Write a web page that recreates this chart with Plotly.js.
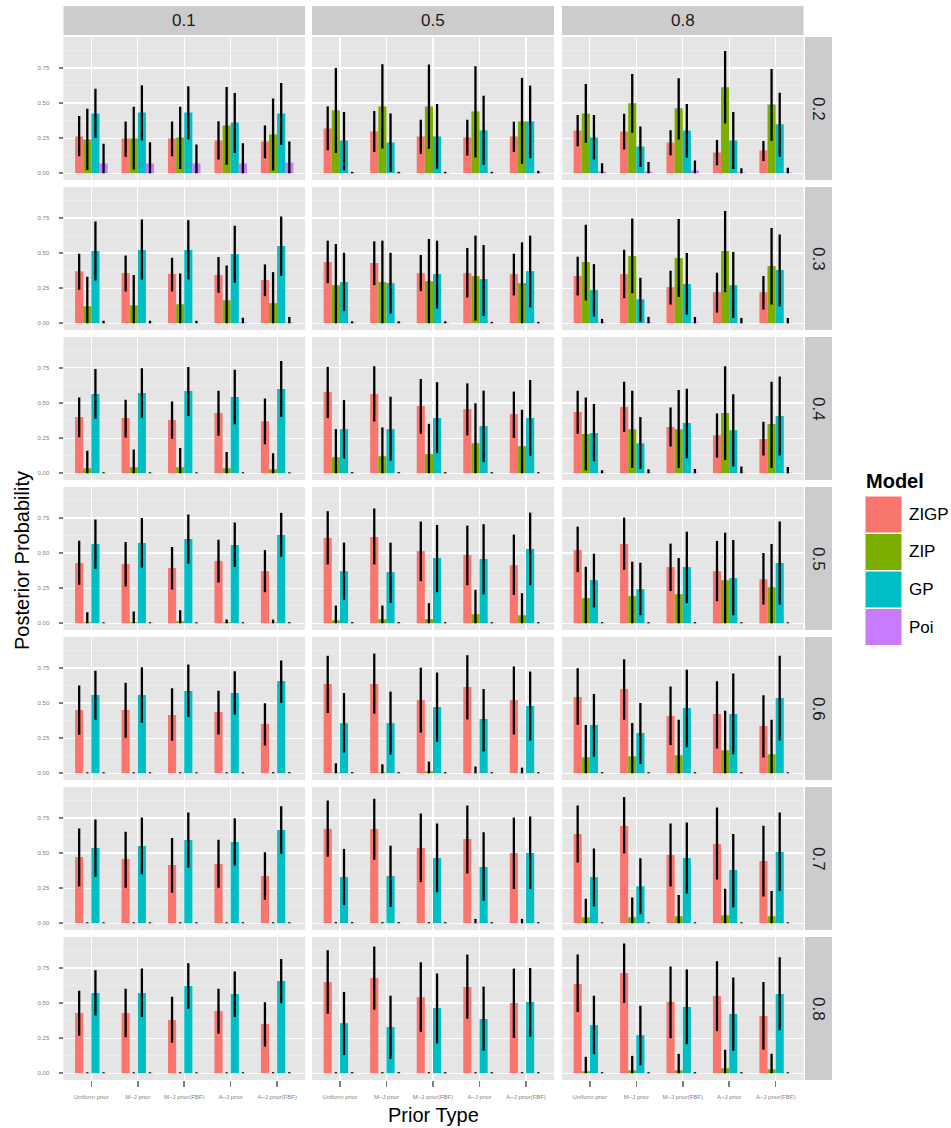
<!DOCTYPE html>
<html>
<head>
<meta charset="utf-8">
<script src="https://cdn.plot.ly/plotly-3.0.1.min.js"></script>
<style>html,body{margin:0;padding:0;background:#fff;}#chart{width:951px;height:1128px;}</style>
</head>
<body>
<div id="chart"></div>
<script>
const priors = ["Uniform prior","M\u2212J prior","M\u2212J prior(FBF)","A\u2212J prior","A\u2212J prior(FBF)"];
const models = ["ZIGP","ZIP","GP","Poi"];
const modelColors = ["#F8766D","#7CAE00","#00BFC4","#C77CFF"];
const colLabels = ["0.1","0.5","0.8"];
const rowLabels = ["0.2","0.3","0.4","0.5","0.6","0.7","0.8"];
const yTickVals = [0,0.25,0.5,0.75];
const yTickText = ["0.00","0.25","0.50","0.75"];

// panels ordered row by row (row label 0.2..0.8), columns 0.1, 0.5, 0.8
const zigpMean = [
[0.262,0.248,0.248,0.233,0.226],[0.319,0.298,0.262,0.255,0.262],[0.305,0.298,0.219,0.148,0.162],
[0.371,0.357,0.35,0.343,0.307],[0.436,0.429,0.357,0.357,0.35],[0.336,0.35,0.257,0.221,0.221],
[0.4,0.393,0.379,0.429,0.371],[0.579,0.564,0.479,0.457,0.421],[0.436,0.471,0.329,0.271,0.243],
[0.429,0.421,0.393,0.443,0.371],[0.607,0.614,0.514,0.486,0.414],[0.521,0.564,0.4,0.371,0.314],
[0.45,0.45,0.414,0.436,0.35],[0.636,0.636,0.521,0.614,0.521],[0.543,0.6,0.407,0.421,0.336],
[0.471,0.457,0.414,0.421,0.336],[0.671,0.671,0.536,0.6,0.5],[0.636,0.693,0.486,0.564,0.443],
[0.429,0.429,0.379,0.443,0.35],[0.65,0.679,0.543,0.614,0.5],[0.636,0.714,0.507,0.55,0.407]];
const zigpLow = [
[0.121,0.117,0.121,0.098,0.107],[0.164,0.152,0.138,0.126,0.152],[0.193,0.169,0.129,0.057,0.088],
[0.238,0.226,0.226,0.217,0.193],[0.286,0.271,0.229,0.183,0.198],[0.198,0.179,0.133,0.076,0.098],
[0.257,0.255,0.245,0.267,0.207],[0.393,0.369,0.281,0.269,0.252],[0.281,0.293,0.19,0.112,0.126],
[0.274,0.262,0.24,0.29,0.221],[0.419,0.419,0.3,0.271,0.202],[0.364,0.381,0.229,0.157,0.133],
[0.274,0.252,0.231,0.276,0.198],[0.429,0.424,0.29,0.383,0.276],[0.345,0.381,0.202,0.176,0.112],
[0.262,0.252,0.217,0.252,0.167],[0.474,0.452,0.293,0.355,0.245],[0.433,0.498,0.262,0.312,0.19],
[0.267,0.257,0.217,0.281,0.19],[0.424,0.452,0.295,0.388,0.252],[0.436,0.502,0.25,0.3,0.167]];
const zigpHigh = [
[0.407,0.369,0.369,0.371,0.34],[0.476,0.443,0.381,0.381,0.367],[0.414,0.424,0.307,0.236,0.229],
[0.495,0.483,0.467,0.471,0.419],[0.588,0.583,0.486,0.536,0.495],[0.474,0.524,0.374,0.36,0.336],
[0.54,0.524,0.51,0.588,0.533],[0.757,0.762,0.671,0.64,0.581],[0.588,0.652,0.469,0.426,0.367],
[0.588,0.579,0.543,0.595,0.521],[0.798,0.817,0.724,0.695,0.631],[0.688,0.752,0.567,0.586,0.5],
[0.624,0.645,0.605,0.588,0.498],[0.836,0.852,0.752,0.84,0.76],[0.748,0.812,0.617,0.655,0.555],
[0.674,0.652,0.607,0.595,0.505],[0.874,0.886,0.781,0.838,0.752],[0.838,0.898,0.71,0.824,0.695],
[0.588,0.602,0.545,0.602,0.505],[0.876,0.902,0.79,0.845,0.745],[0.845,0.924,0.76,0.798,0.65]];

const zipMean = [
[0.24,0.248,0.255,0.34,0.276],[0.448,0.476,0.476,0.44,0.369],[0.426,0.498,0.462,0.612,0.49],
[0.121,0.129,0.136,0.164,0.143],[0.271,0.293,0.3,0.336,0.286],[0.436,0.479,0.464,0.514,0.407],
[0.036,0.043,0.043,0.036,0.029],[0.114,0.121,0.136,0.214,0.193],[0.279,0.314,0.314,0.429,0.35],
[0.007,0.007,0.014,0.007,0.005],[0.021,0.029,0.029,0.064,0.057],[0.179,0.193,0.207,0.307,0.257],
[0.002,0.002,0.002,0.002,0.002],[0.004,0.005,0.014,0.002,0.002],[0.114,0.121,0.129,0.164,0.136],
[0.002,0.002,0.002,0.002,0.002],[0.002,0.002,0.002,0.002,0.002],[0.043,0.043,0.05,0.057,0.05],
[0.002,0.002,0.002,0.002,0.002],[0.002,0.002,0.002,0.002,0.002],[0.014,0.021,0.021,0.036,0.029]];
const zipLow = [
[0.024,0.026,0.031,0.06,0.019],[0.145,0.176,0.174,0.112,0.067],[0.217,0.288,0.24,0.355,0.231],
[0,0,0,0,0],[0,0,0,0.019,0],[0.162,0.214,0.188,0.221,0.133],
[0,0,0,0,0],[0,0,0,0,0],[0.021,0.038,0.038,0.095,0.038],
[0,0,0,0,0],[0,0,0,0,0],[0,0,0,0,0],
[0,0,0,0,0],[0,0,0,0,0],[0,0,0,0,0],
[0,0,0,0,0],[0,0,0,0,0],[0,0,0,0,0],
[0,0,0,0,0],[0,0,0,0,0],[0,0,0,0,0]];
const zipHigh = [
[0.46,0.474,0.474,0.614,0.533],[0.75,0.776,0.774,0.762,0.679],[0.636,0.707,0.676,0.871,0.743],
[0.331,0.343,0.355,0.412,0.364],[0.564,0.588,0.6,0.624,0.576],[0.702,0.745,0.743,0.8,0.679],
[0.16,0.169,0.179,0.152,0.143],[0.314,0.326,0.352,0.498,0.452],[0.54,0.588,0.593,0.762,0.652],
[0.079,0.083,0.093,0.026,0.026],[0.126,0.126,0.143,0.238,0.214],[0.402,0.438,0.464,0.645,0.564],
[0.008,0.008,0.008,0.008,0.008],[0.071,0.064,0.083,0.048,0.04],[0.343,0.357,0.381,0.445,0.381],
[0.008,0.008,0.008,0.008,0.008],[0.008,0.008,0.008,0.031,0.031],[0.174,0.183,0.202,0.245,0.229],
[0.008,0.008,0.008,0.008,0.008],[0.008,0.008,0.008,0.008,0.008],[0.117,0.124,0.138,0.167,0.138]];

const gpMean = [
[0.426,0.433,0.433,0.362,0.426],[0.233,0.219,0.262,0.305,0.369],[0.255,0.19,0.305,0.233,0.348],
[0.514,0.521,0.521,0.493,0.55],[0.293,0.286,0.35,0.314,0.371],[0.236,0.171,0.279,0.271,0.379],
[0.564,0.571,0.586,0.543,0.6],[0.314,0.314,0.393,0.336,0.393],[0.286,0.214,0.357,0.307,0.407],
[0.564,0.571,0.6,0.557,0.629],[0.371,0.364,0.464,0.457,0.529],[0.307,0.243,0.4,0.321,0.429],
[0.557,0.557,0.586,0.571,0.657],[0.357,0.357,0.471,0.386,0.479],[0.343,0.286,0.464,0.421,0.536],
[0.536,0.55,0.593,0.579,0.664],[0.329,0.336,0.464,0.4,0.5],[0.329,0.264,0.464,0.379,0.507],
[0.571,0.571,0.621,0.564,0.657],[0.357,0.329,0.464,0.386,0.507],[0.343,0.271,0.471,0.421,0.564]];
const gpLow = [
[0.252,0.233,0.24,0.145,0.202],[0.021,0.01,0.033,0.06,0.107],[0.098,0.045,0.11,0.031,0.117],
[0.305,0.31,0.312,0.288,0.338],[0.086,0.069,0.105,0.052,0.114],[0.048,0.01,0.062,0.038,0.119],
[0.388,0.395,0.407,0.348,0.4],[0.105,0.09,0.143,0.079,0.124],[0.086,0.031,0.107,0.048,0.126],
[0.388,0.395,0.424,0.4,0.474],[0.167,0.145,0.221,0.205,0.271],[0.112,0.057,0.143,0.057,0.133],
[0.381,0.36,0.4,0.419,0.502],[0.148,0.133,0.224,0.155,0.233],[0.117,0.067,0.186,0.136,0.233],
[0.331,0.348,0.395,0.41,0.495],[0.131,0.117,0.221,0.16,0.245],[0.119,0.064,0.212,0.114,0.229],
[0.412,0.4,0.46,0.4,0.498],[0.129,0.102,0.212,0.16,0.26],[0.136,0.057,0.207,0.16,0.307]];
const gpHigh = [
[0.602,0.626,0.619,0.571,0.643],[0.436,0.426,0.493,0.552,0.624],[0.414,0.333,0.493,0.436,0.574],
[0.724,0.738,0.733,0.695,0.76],[0.502,0.502,0.588,0.557,0.624],[0.421,0.324,0.5,0.507,0.631],
[0.743,0.748,0.757,0.736,0.8],[0.521,0.545,0.648,0.588,0.664],[0.493,0.4,0.602,0.562,0.688],
[0.738,0.75,0.774,0.717,0.786],[0.574,0.574,0.7,0.705,0.788],[0.495,0.431,0.652,0.593,0.724],
[0.729,0.755,0.774,0.726,0.802],[0.571,0.581,0.717,0.6,0.724],[0.564,0.5,0.736,0.71,0.836],
[0.738,0.752,0.788,0.748,0.833],[0.529,0.552,0.71,0.648,0.76],[0.533,0.462,0.717,0.636,0.788],
[0.733,0.745,0.783,0.724,0.814],[0.579,0.552,0.71,0.617,0.75],[0.552,0.481,0.738,0.681,0.826]];

const poiMean = [
[0.069,0.069,0.069,0.069,0.076],[0.003,0.003,0.003,0.003,0.005],[0.012,0.012,0.019,0.005,0.005],
[0.002,0.002,0.002,0.005,0.005],[0.004,0.004,0.004,0.002,0.002],[0.005,0.005,0.005,0.002,0.002],
[0.002,0.002,0.002,0.002,0.002],[0.002,0.002,0.002,0.002,0.002],[0.004,0.004,0.004,0.003,0.003],
[0.002,0.002,0.002,0.002,0.002],[0.002,0.002,0.002,0.002,0.002],[0.002,0.002,0.002,0.002,0.002],
[0.002,0.002,0.002,0.002,0.002],[0.002,0.002,0.002,0.002,0.002],[0.002,0.002,0.002,0.002,0.002],
[0.002,0.002,0.002,0.002,0.002],[0.002,0.002,0.002,0.002,0.002],[0.002,0.002,0.002,0.002,0.002],
[0.002,0.002,0.002,0.002,0.002],[0.002,0.002,0.002,0.002,0.002],[0.002,0.002,0.002,0.002,0.002]];
const poiLow = [
[0,0,0,0,0],[0,0,0,0,0],[0,0,0,0,0],[0,0,0,0,0],[0,0,0,0,0],[0,0,0,0,0],[0,0,0,0,0],
[0,0,0,0,0],[0,0,0,0,0],[0,0,0,0,0],[0,0,0,0,0],[0,0,0,0,0],[0,0,0,0,0],[0,0,0,0,0],
[0,0,0,0,0],[0,0,0,0,0],[0,0,0,0,0],[0,0,0,0,0],[0,0,0,0,0],[0,0,0,0,0],[0,0,0,0,0]];
const poiHigh = [
[0.21,0.22,0.205,0.214,0.226],[0.01,0.01,0.01,0.01,0.017],[0.071,0.081,0.09,0.036,0.04],
[0.017,0.017,0.017,0.04,0.045],[0.014,0.014,0.014,0.01,0.01],[0.031,0.045,0.045,0.038,0.038],
[0.008,0.008,0.008,0.008,0.008],[0.008,0.008,0.008,0.008,0.008],[0.021,0.029,0.031,0.048,0.045],
[0.008,0.008,0.008,0.008,0.008],[0.008,0.008,0.008,0.008,0.008],[0.008,0.008,0.008,0.008,0.008],
[0.008,0.008,0.008,0.008,0.008],[0.008,0.008,0.008,0.008,0.008],[0.008,0.008,0.008,0.008,0.008],
[0.008,0.008,0.008,0.008,0.008],[0.008,0.008,0.008,0.008,0.008],[0.008,0.008,0.008,0.008,0.008],
[0.008,0.008,0.008,0.008,0.008],[0.008,0.008,0.008,0.008,0.008],[0.008,0.008,0.008,0.008,0.008]];

const means = [zigpMean, zipMean, gpMean, poiMean];
const lows = [zigpLow, zipLow, gpLow, poiLow];
const highs = [zigpHigh, zipHigh, gpHigh, poiHigh];

const W = 951, H = 1128;
const FONT = "Liberation Sans, Arial, Helvetica, sans-serif";
const colPx = [[63.5,305],[312,554],[562,803.5]];
const rowTop0 = 37, rowStep = 150, rowH = 143;
const px = v => v / W;
const py = v => 1 - v / H;

const traces = [];
const layout = {
  width: W, height: H,
  margin: {l:0, r:0, t:0, b:0},
  paper_bgcolor: "#FFFFFF",
  plot_bgcolor: "#E5E5E5",
  barmode: "group",
  bargap: 0.3,
  bargroupgap: 0,
  showlegend: false,
  font: {family: FONT, color: "#000"},
  shapes: [],
  annotations: []
};

for (let p = 0; p < 21; p++) {
  const r = Math.floor(p / 3), c = p % 3;
  const k = p + 1;
  const xa = "x" + (k > 1 ? k : ""), ya = "y" + (k > 1 ? k : "");
  for (let m = 0; m < 4; m++) {
    const mean = means[m][p], lo = lows[m][p], hi = highs[m][p];
    traces.push({
      type: "bar", x: priors, y: mean, name: models[m],
      xaxis: xa, yaxis: ya,
      marker: {color: modelColors[m], line: {width: 0}},
      error_y: {type: "data", symmetric: false,
        array: mean.map((v, i) => hi[i] - v),
        arrayminus: mean.map((v, i) => v - lo[i]),
        color: "#000", thickness: 2.3, width: 0},
      hoverinfo: "skip"
    });
  }
  const top = rowTop0 + r * rowStep, bot = top + rowH;
  const bottomRow = (r === 6), leftCol = (c === 0);
  layout["xaxis" + (k > 1 ? k : "")] = {
    domain: [px(colPx[c][0]), px(colPx[c][1])],
    anchor: ya, type: "category", categoryorder: "array", categoryarray: priors,
    range: [-0.6, 4.6], showgrid: true, gridcolor: "#FFFFFF", gridwidth: 1.2,
    zeroline: false, showline: false,
    showticklabels: bottomRow, ticks: bottomRow ? "outside" : "",
    ticklen: 6, tickwidth: 1.6, tickcolor: "#7F7F7F",
    ticklabelstandoff: 5,
    tickfont: {size: 6, color: "#7F7F7F", family: FONT},
    fixedrange: true
  };
  layout["yaxis" + (k > 1 ? k : "")] = {
    domain: [py(bot), py(top)],
    anchor: xa, range: [-0.048, 0.97],
    tickmode: "array", tickvals: yTickVals, ticktext: yTickText,
    showgrid: true, gridcolor: "#FFFFFF", gridwidth: 1.2,
    minor: {tickvals: [0.125, 0.375, 0.625, 0.875], showgrid: true, gridcolor: "#F2F2F2", gridwidth: 0.6, ticks: ""},
    zeroline: false, showline: false,
    showticklabels: leftCol, ticks: leftCol ? "outside" : "",
    ticklen: 4, tickwidth: 1.6, tickcolor: "#7F7F7F",
    ticklabelstandoff: 8,
    tickfont: {size: 6, color: "#7F7F7F", family: FONT},
    fixedrange: true
  };
}

// top strips
for (let c = 0; c < 3; c++) {
  layout.shapes.push({type: "rect", xref: "paper", yref: "paper", layer: "below",
    x0: px(colPx[c][0]), x1: px(colPx[c][1]), y0: py(35), y1: py(6),
    fillcolor: "#CCCCCC", line: {width: 0}});
  layout.annotations.push({xref: "paper", yref: "paper", x: px((colPx[c][0] + colPx[c][1]) / 2), y: py(21),
    text: colLabels[c], showarrow: false, xanchor: "center", yanchor: "middle",
    font: {size: 17, color: "#1A1A1A", family: FONT}});
}
// right strips
for (let r = 0; r < 7; r++) {
  const top = rowTop0 + r * rowStep, bot = top + rowH;
  layout.shapes.push({type: "rect", xref: "paper", yref: "paper", layer: "below",
    x0: px(805), x1: px(832), y0: py(bot), y1: py(top),
    fillcolor: "#CCCCCC", line: {width: 0}});
  layout.annotations.push({xref: "paper", yref: "paper", x: px(818.5), y: py((top + bot) / 2),
    text: rowLabels[r], showarrow: false, textangle: 90, xanchor: "center", yanchor: "middle",
    font: {size: 17, color: "#1A1A1A", family: FONT}});
}
// axis titles
layout.annotations.push({xref: "paper", yref: "paper", x: px(433.5), y: py(1115),
  text: "Prior Type", showarrow: false, xanchor: "center", yanchor: "middle",
  font: {size: 20, color: "#000", family: FONT}});
layout.annotations.push({xref: "paper", yref: "paper", x: px(22), y: py(561),
  text: "Posterior Probability", showarrow: false, textangle: -90, xanchor: "center", yanchor: "middle",
  font: {size: 20, color: "#000", family: FONT}});
// legend
layout.annotations.push({xref: "paper", yref: "paper", x: px(864), y: py(481),
  text: "<b>Model</b>", showarrow: false, xanchor: "left", yanchor: "middle",
  font: {size: 20, color: "#000", family: FONT}});
const keyTop = [496, 533.5, 571, 608.5];
for (let m = 0; m < 4; m++) {
  layout.shapes.push({type: "rect", xref: "paper", yref: "paper",
    x0: px(865), x1: px(902), y0: py(keyTop[m] + 37), y1: py(keyTop[m]),
    fillcolor: modelColors[m], line: {color: "#FFFFFF", width: 1}});
  layout.annotations.push({xref: "paper", yref: "paper", x: px(907), y: py(keyTop[m] + 18.5),
    text: models[m], showarrow: false, xanchor: "left", yanchor: "middle",
    font: {size: 17, color: "#000", family: FONT}});
}

Plotly.newPlot("chart", traces, layout, {staticPlot: true, displayModeBar: false});
</script>
</body>
</html>
